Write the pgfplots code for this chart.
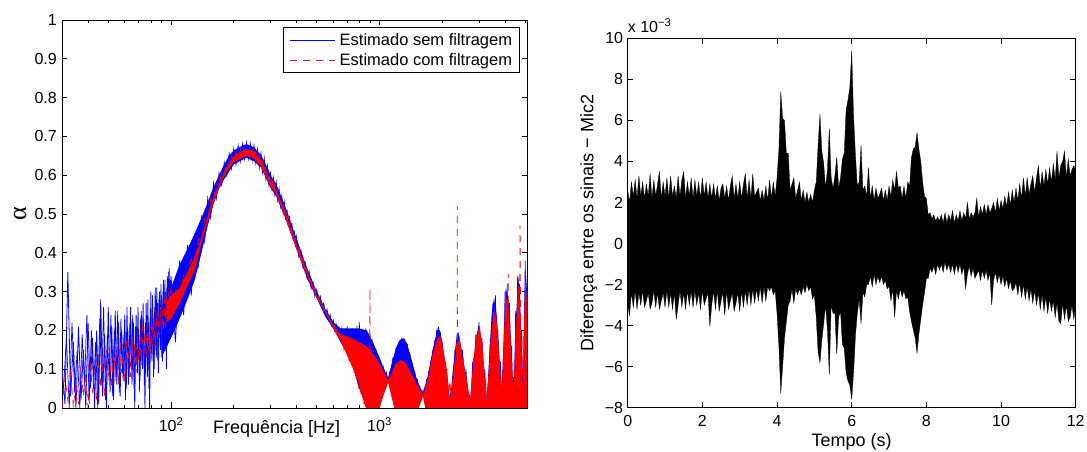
\documentclass[border=0pt]{standalone}
\usepackage{fontspec}
\setmainfont{Liberation Sans}
\newfontfamily\greekserif{Liberation Serif}
\usepackage{pgfplots}
\pgfplotsset{compat=1.18}
\usepackage{pgfplotstable}

% blue series ("sem filtragem")
\pgfplotstableread{
f a
30 0.10
31 0.01
32 0.35
33 0.03
34 0.17
35 0.00
36 0.21
37 0.02
38 0.15
39 0.00
40 0.22
41 0.05
42 0.18
43 0.00
44 0.20
45 0.01
46 0.28
47 0.03
48 0.19
49 0.00
50 0.26
51 0.04
52 0.21
53 0.02
54 0.25
55 0.06
56 0.22
57 0.03
58 0.20
59 0.07
60 0.24
61 0.05
62 0.21
63 0.08
64 0.26
65 0.06
66 0.22
67 0.00
68 0.24
69 0.09
70 0.20
71 0.07
72 0.25
73 0.10
74 0.23
75 0.00
76 0.27
77 0.08
78 0.22
79 0.00
80 0.30
81 0.12
82 0.24
83 0.10
84 0.31
85 0.13
86 0.27
87 0.09
88 0.30
89 0.15
90 0.29
91 0.12
92 0.33
93 0.16
94 0.30
95 0.10
96 0.34
97 0.17
98 0.36
99 0.20
100 0.34
105 0.17
110 0.38
115 0.24
120 0.42
125 0.29
130 0.45
135 0.36
140 0.49
145 0.43
150 0.54
155 0.49
160 0.58
165 0.54
170 0.605
175 0.575
180 0.632
185 0.60
190 0.655
195 0.618
200 0.668
205 0.628
210 0.676
215 0.636
220 0.68
225 0.642
230 0.684
235 0.643
240 0.681
245 0.638
250 0.676
255 0.632
260 0.667
265 0.62
270 0.656
275 0.608
280 0.643
285 0.592
290 0.623
295 0.574
300 0.604
305 0.563
310 0.592
315 0.55
320 0.58
325 0.536
330 0.563
335 0.52
340 0.546
345 0.502
350 0.528
355 0.485
360 0.512
365 0.468
370 0.495
375 0.451
380 0.477
385 0.433
390 0.458
395 0.415
400 0.44
410 0.39
420 0.406
430 0.36
440 0.375
450 0.333
460 0.35
470 0.308
480 0.324
490 0.288
500 0.305
510 0.28
520 0.288
530 0.26
540 0.27
550 0.243
560 0.254
570 0.228
580 0.24
590 0.212
600 0.226
610 0.20
620 0.215
630 0.19
640 0.205
650 0.178
660 0.205
670 0.16
680 0.198
690 0.15
700 0.21
710 0.14
720 0.195
730 0.12
740 0.205
750 0.10
760 0.20
770 0.09
780 0.212
790 0.06
800 0.222
810 0.05
820 0.198
830 0.03
840 0.20
850 0.01
860 0.205
870 0.0
880 0.19
890 0.0
900 0.185
910 0.0
920 0.178
930 0.0
940 0.16
950 0.0
960 0.152
970 0.01
980 0.14
990 0.02
1000 0.13
1020 0.03
1040 0.11
1060 0.05
1080 0.09
1100 0.07
1120 0.09
1140 0.05
1160 0.13
1180 0.02
1200 0.155
1220 0.0
1240 0.172
1260 0.0
1280 0.18
1300 0.0
1320 0.178
1340 0.0
1360 0.165
1380 0.0
1400 0.14
1420 0.0
1440 0.115
1460 0.0
1480 0.092
1500 0.0
1520 0.075
1540 0.01
1560 0.058
1580 0.025
1600 0.045
1620 0.035
1640 0.05
1660 0.02
1680 0.075
1700 0.0
1720 0.095
1740 0.0
1760 0.12
1780 0.0
1800 0.15
1820 0.0
1840 0.175
1860 0.0
1880 0.20
1900 0.0
1920 0.21
1940 0.0
1960 0.195
1980 0.0
2000 0.17
2050 0.0
2100 0.10
2150 0.0
2200 0.04
2250 0.0
2300 0.15
2350 0.0
2400 0.195
2450 0.0
2500 0.15
2550 0.0
2600 0.10
2650 0.0
2700 0.03
2750 0.0
2800 0.12
2850 0.0
2900 0.19
2950 0.0
3000 0.222
3050 0.0
3100 0.18
3150 0.0
3200 0.10
3250 0.0
3300 0.05
3350 0.0
3400 0.18
3450 0.0
3500 0.27
3550 0.0
3600 0.29
3650 0.0
3700 0.20
3750 0.0
3800 0.12
3850 0.0
3900 0.10
3950 0.0
4000 0.30
4050 0.0
4100 0.32
4150 0.0
4200 0.27
4250 0.0
4300 0.16
4350 0.0
4400 0.08
4450 0.0
4500 0.25
4550 0.0
4600 0.34
4650 0.0
4700 0.32
4750 0.0
4800 0.20
4850 0.0
4900 0.12
4950 0.0
5000 0.38
5050 0.0
5100 0.31
}\bluedat

% blue series, the values between the ones above in the noisy low band
\pgfplotstableread{
f a
30.5 0.05
31.5 0.18
32.5 0.00
33.5 0.22
34.5 0.04
35.5 0.15
36.5 0.00
37.5 0.19
38.5 0.06
39.5 0.24
40.5 0.01
41.5 0.20
42.5 0.05
43.5 0.17
44.5 0.00
45.5 0.23
46.5 0.06
47.5 0.26
48.5 0.02
49.5 0.19
50.5 0.08
51.5 0.24
52.5 0.03
53.5 0.20
54.5 0.07
55.5 0.25
56.5 0.04
57.5 0.23
58.5 0.09
59.5 0.19
60.5 0.02
61.5 0.26
62.5 0.06
63.5 0.22
64.5 0.10
65.5 0.24
66.5 0.05
67.5 0.21
68.5 0.11
69.5 0.26
70.5 0.04
71.5 0.23
72.5 0.12
73.5 0.27
74.5 0.06
75.5 0.22
76.5 0.13
77.5 0.28
78.5 0.05
79.5 0.25
80.5 0.14
81.5 0.29
82.5 0.08
83.5 0.26
84.5 0.16
85.5 0.31
86.5 0.12
87.5 0.28
88.5 0.18
89.5 0.32
90.5 0.14
91.5 0.30
92.5 0.19
93.5 0.33
94.5 0.17
95.5 0.31
96.5 0.21
97.5 0.35
98.5 0.19
99.5 0.33
}\bluedatb

% dense core of the blue band: upper edge, then lower edge back
\pgfplotstableread{
f a
90 0.25
100 0.31
110 0.37
120 0.41
130 0.45
140 0.49
150 0.53
160 0.57
170 0.60
180 0.628
190 0.65
200 0.664
220 0.676
230 0.68
250 0.672
270 0.652
290 0.62
300 0.60
320 0.577
350 0.525
400 0.437
450 0.36
500 0.30
550 0.255
600 0.222
650 0.205
700 0.205
800 0.205
870 0.20
930 0.17
1000 0.13
1100 0.076
1150 0.12
1200 0.155
1250 0.175
1300 0.18
1350 0.168
1400 0.14
1450 0.11
1500 0.08
1560 0.055
1620 0.038
1700 0.08
1800 0.15
1900 0.205
1950 0.20
2000 0.17
2100 0.09
2180 0.02
2250 0.10
2350 0.19
2400 0.19
2500 0.14
2600 0.08
2720 0.02
2800 0.10
2900 0.18
3000 0.215
3100 0.17
3200 0.08
3270 0.02
3350 0.12
3450 0.24
3545 0.285
3650 0.24
3750 0.14
3860 0.03
3950 0.20
4036 0.31
4150 0.28
4250 0.20
4390 0.03
4500 0.22
4637 0.34
4750 0.24
4870 0.03
4950 0.28
5020 0.36
5100 0.30
5100 0
1660 0
1620 0.035
1580 0.02
1540 0
1180 0
1100 0.07
1040 0.03
1000 0
870 0
800 0.05
750 0.10
700 0.14
650 0.17
600 0.205
550 0.235
500 0.283
450 0.333
400 0.41
350 0.495
320 0.545
300 0.568
270 0.62
250 0.636
230 0.645
200 0.628
180 0.59
170 0.565
160 0.525
150 0.47
140 0.40
130 0.33
120 0.28
110 0.23
100 0.18
90 0.13
}\blueband

% red series ("com filtragem")
\pgfplotstableread{
f a
30 0.00
31 0.08
32 0.02
33 0.10
34 0.00
35 0.07
36 0.01
37 0.11
38 0.03
39 0.09
40 0.00
41 0.12
42 0.04
43 0.10
44 0.02
45 0.14
46 0.05
47 0.12
48 0.03
49 0.15
50 0.07
51 0.13
52 0.05
53 0.16
54 0.08
55 0.14
56 0.06
57 0.17
58 0.09
59 0.15
60 0.07
61 0.18
62 0.10
63 0.16
64 0.08
65 0.19
66 0.11
67 0.17
68 0.09
69 0.20
70 0.12
71 0.19
72 0.11
73 0.22
74 0.14
75 0.20
76 0.13
77 0.23
78 0.15
79 0.21
80 0.14
81 0.24
82 0.16
83 0.22
84 0.15
85 0.25
86 0.17
87 0.23
88 0.18
89 0.26
90 0.19
91 0.25
92 0.20
93 0.28
94 0.21
95 0.29
96 0.22
97 0.30
98 0.24
99 0.31
100 0.25
105 0.30
110 0.27
115 0.345
120 0.32
125 0.385
130 0.36
135 0.435
140 0.43
145 0.49
150 0.485
155 0.54
160 0.535
165 0.578
170 0.57
175 0.61
180 0.60
185 0.632
190 0.622
195 0.65
200 0.636
205 0.66
210 0.645
215 0.667
220 0.65
225 0.672
230 0.653
235 0.671
240 0.65
245 0.667
250 0.645
255 0.66
260 0.636
265 0.65
270 0.625
275 0.638
280 0.612
285 0.622
290 0.593
295 0.604
300 0.575
305 0.59
310 0.564
315 0.578
320 0.552
325 0.563
330 0.535
335 0.547
340 0.518
345 0.529
350 0.50
355 0.512
360 0.484
365 0.495
370 0.467
375 0.478
380 0.45
385 0.46
390 0.43
395 0.442
400 0.413
410 0.415
420 0.38
430 0.385
440 0.35
450 0.357
460 0.325
470 0.332
480 0.30
490 0.31
500 0.285
510 0.287
520 0.266
530 0.268
540 0.25
550 0.252
560 0.234
570 0.236
580 0.22
590 0.222
600 0.207
610 0.21
620 0.197
630 0.198
640 0.19
650 0.185
655 0.175
665 0.185
675 0.15
685 0.18
695 0.14
705 0.185
715 0.12
725 0.18
735 0.11
745 0.178
755 0.09
765 0.175
775 0.07
785 0.17
795 0.05
805 0.168
815 0.03
825 0.165
835 0.01
845 0.16
855 0.0
865 0.158
875 0.0
885 0.155
895 0.0
900 0.308
905 0.0
915 0.15
925 0.0
935 0.14
945 0.0
955 0.13
965 0.0
975 0.12
985 0.01
995 0.11
1010 0.02
1030 0.10
1050 0.04
1070 0.085
1090 0.06
1110 0.075
1130 0.05
1150 0.09
1170 0.02
1190 0.11
1210 0.0
1230 0.12
1250 0.0
1270 0.124
1290 0.0
1310 0.12
1330 0.0
1350 0.115
1370 0.0
1390 0.10
1410 0.0
1430 0.09
1450 0.0
1470 0.075
1490 0.0
1510 0.06
1530 0.01
1550 0.05
1570 0.025
1590 0.045
1610 0.035
1630 0.04
1650 0.02
1670 0.06
1690 0.0
1710 0.08
1730 0.0
1750 0.10
1770 0.0
1790 0.13
1810 0.0
1830 0.15
1850 0.0
1870 0.17
1890 0.0
1910 0.18
1930 0.0
1950 0.19
1970 0.0
1990 0.17
2025 0.0
2075 0.12
2125 0.0
2175 0.07
2225 0.0
2275 0.08
2325 0.0
2340 0.17
2355 0.0
2361 0.52
2367 0.0
2425 0.18
2475 0.0
2525 0.13
2575 0.0
2625 0.08
2675 0.0
2725 0.02
2775 0.0
2825 0.13
2875 0.0
2925 0.19
2975 0.0
3025 0.216
3075 0.0
3125 0.17
3175 0.0
3225 0.07
3275 0.0
3325 0.08
3375 0.0
3425 0.18
3475 0.0
3525 0.25
3575 0.0
3625 0.24
3675 0.0
3725 0.16
3775 0.0
3825 0.08
3875 0.0
3925 0.16
3975 0.0
4025 0.30
4075 0.0
4125 0.28
4140 0.0
4150 0.345
4160 0.0
4225 0.22
4275 0.0
4325 0.12
4375 0.0
4425 0.06
4475 0.0
4525 0.22
4575 0.0
4625 0.33
4675 0.0
4725 0.47
4775 0.0
4825 0.18
4875 0.0
4925 0.20
4975 0.0
5025 0.33
5075 0.0
5100 0.28
}\reddat

% dense core of the red band: upper edge, then lower edge back
\pgfplotstableread{
f a
95 0.27
100 0.29
110 0.31
120 0.35
130 0.39
140 0.44
150 0.495
160 0.545
170 0.578
180 0.61
190 0.632
200 0.648
220 0.662
230 0.668
250 0.662
270 0.64
290 0.605
300 0.585
320 0.562
350 0.51
400 0.422
450 0.352
500 0.29
550 0.252
600 0.212
650 0.19
700 0.185
800 0.17
870 0.158
930 0.14
1000 0.115
1100 0.07
1200 0.115
1270 0.124
1350 0.112
1450 0.08
1550 0.05
1620 0.035
1700 0.07
1800 0.14
1900 0.18
1950 0.185
2000 0.165
2100 0.10
2180 0.02
2250 0.08
2350 0.17
2420 0.175
2500 0.13
2600 0.08
2720 0.02
2800 0.10
2900 0.18
3020 0.21
3100 0.17
3200 0.08
3270 0.02
3350 0.10
3450 0.20
3545 0.25
3650 0.22
3750 0.14
3860 0.03
3950 0.18
4036 0.29
4150 0.26
4250 0.18
4390 0.03
4500 0.20
4637 0.32
4750 0.22
4870 0.03
4950 0.25
5020 0.32
5100 0.28
5100 0
1660 0
1620 0.03
1580 0.015
1540 0
1180 0
1100 0.065
1040 0.03
1000 0
860 0
800 0.06
750 0.10
700 0.135
650 0.175
600 0.204
550 0.247
500 0.283
450 0.342
400 0.408
350 0.497
320 0.55
300 0.572
270 0.622
250 0.643
230 0.65
200 0.634
180 0.598
170 0.568
160 0.53
150 0.48
140 0.425
130 0.355
120 0.315
110 0.27
100 0.23
95 0.22
}\redband

% signal difference: upper envelope forward, lower envelope back
\pgfplotstableread{
t v
0.00 2.6
0.05 2.0
0.10 3.0
0.15 2.3
0.20 3.1
0.25 2.2
0.30 3.3
0.35 2.3
0.40 3.0
0.45 2.2
0.50 2.9
0.55 2.3
0.60 3.4
0.65 2.2
0.70 3.1
0.75 2.3
0.80 2.9
0.85 3.5
0.90 2.2
0.95 3.0
1.00 2.3
1.05 3.2
1.10 2.2
1.15 3.3
1.20 2.3
1.25 2.8
1.30 2.2
1.35 3.3
1.40 2.3
1.45 3.1
1.50 3.5
1.55 2.2
1.60 3.0
1.65 2.3
1.70 3.2
1.75 2.2
1.80 3.1
1.85 2.3
1.90 3.0
1.95 2.2
2.00 3.2
2.05 2.3
2.10 3.0
2.15 2.2
2.20 2.9
2.25 2.2
2.30 2.9
2.35 2.2
2.40 2.8
2.45 2.1
2.50 2.7
2.55 2.9
2.60 2.2
2.65 2.8
2.70 2.1
2.75 2.8
2.80 3.3
2.85 2.2
2.90 2.9
2.95 2.2
3.00 3.0
3.05 2.2
3.10 2.9
3.15 3.4
3.20 2.2
3.25 3.1
3.30 2.2
3.35 3.4
3.40 2.3
3.45 2.5
3.50 2.7
3.55 2.1
3.60 2.6
3.65 2.1
3.70 2.8
3.75 2.1
3.80 3.1
3.85 2.2
3.90 3.0
3.95 2.3
4.00 3.2
4.05 4.6
4.10 7.4
4.15 6.1
4.20 6.0
4.25 4.4
4.30 4.4
4.35 2.6
4.40 2.9
4.45 3.2
4.50 2.2
4.55 2.6
4.60 3.0
4.65 2.1
4.70 2.6
4.75 2.0
4.80 2.5
4.85 2.0
4.90 2.4
4.95 2.0
5.00 2.6
5.05 3.0
5.10 4.8
5.15 6.3
5.20 4.5
5.25 3.9
5.30 2.7
5.35 3.6
5.40 5.6
5.45 3.2
5.50 2.7
5.55 3.3
5.60 4.2
5.65 2.7
5.70 3.2
5.75 4.1
5.80 4.4
5.85 6.5
5.90 7.0
5.95 7.6
6.00 9.4
6.05 6.2
6.10 4.3
6.15 2.8
6.20 3.0
6.25 4.8
6.30 2.6
6.35 2.8
6.40 2.3
6.45 3.7
6.50 2.2
6.55 2.8
6.60 2.1
6.65 2.7
6.70 2.2
6.75 2.4
6.80 2.7
6.85 2.1
6.90 2.6
6.95 2.1
7.00 2.8
7.05 2.3
7.10 3.1
7.15 2.6
7.20 3.5
7.25 2.7
7.30 2.8
7.35 2.2
7.40 2.8
7.45 2.2
7.50 3.0
7.55 2.8
7.60 4.2
7.65 4.6
7.70 4.7
7.75 5.4
7.80 4.6
7.85 4.0
7.90 3.0
7.95 2.3
8.00 2.2
8.05 1.4
8.10 1.5
8.15 1.2
8.20 1.4
8.25 1.1
8.30 1.3
8.35 1.1
8.40 1.4
8.45 1.0
8.50 1.5
8.55 1.0
8.60 1.4
8.65 1.1
8.70 1.6
8.75 1.0
8.80 1.4
8.85 1.1
8.90 1.6
8.95 1.1
9.00 1.5
9.05 1.2
9.10 2.0
9.15 1.2
9.20 1.5
9.25 1.3
9.30 1.5
9.35 2.2
9.40 1.3
9.45 1.8
9.50 1.4
9.55 1.9
9.60 1.4
9.65 1.9
9.70 1.5
9.75 1.7
9.80 2.0
9.85 1.5
9.90 2.2
9.95 1.6
10.00 2.1
10.05 1.7
10.10 2.3
10.15 1.8
10.20 2.5
10.25 1.9
10.30 2.6
10.35 2.0
10.40 2.7
10.45 2.1
10.50 2.9
10.55 2.2
10.60 3.2
10.65 2.3
10.70 3.2
10.75 2.4
10.80 2.9
10.85 3.3
10.90 2.5
10.95 3.2
11.00 3.8
11.05 2.7
11.10 3.5
11.15 2.8
11.20 3.6
11.25 2.9
11.30 3.7
11.35 3.0
11.40 3.9
11.45 3.1
11.50 4.5
11.55 3.2
11.60 3.8
11.65 4.0
11.70 4.5
11.75 3.2
11.80 4.1
11.85 3.3
11.90 3.6
11.95 3.8
12.00 3.5
12.00 -3.0
11.95 -3.7
11.90 -3.0
11.85 -3.6
11.80 -3.8
11.75 -3.0
11.70 -3.7
11.65 -2.9
11.60 -3.9
11.55 -3.8
11.50 -2.9
11.45 -3.6
11.40 -2.8
11.35 -3.3
11.30 -2.7
11.25 -3.4
11.20 -2.6
11.15 -3.3
11.10 -2.5
11.05 -3.2
11.00 -2.4
10.95 -3.0
10.90 -2.3
10.85 -2.9
10.80 -2.2
10.75 -2.8
10.70 -2.1
10.65 -2.7
10.60 -2.0
10.55 -2.6
10.50 -1.9
10.45 -2.5
10.40 -1.9
10.35 -2.2
10.30 -2.3
10.25 -1.8
10.20 -2.2
10.15 -1.7
10.10 -2.1
10.05 -1.6
10.00 -2.0
9.95 -1.5
9.90 -1.9
9.85 -1.4
9.80 -1.8
9.75 -3.0
9.70 -1.4
9.65 -1.8
9.60 -1.3
9.55 -1.7
9.50 -1.3
9.45 -1.8
9.40 -1.3
9.35 -1.5
9.30 -1.7
9.25 -1.2
9.20 -1.6
9.15 -1.1
9.10 -1.5
9.05 -2.2
9.00 -1.1
8.95 -1.5
8.90 -1.0
8.85 -1.4
8.80 -1.0
8.75 -1.5
8.70 -1.0
8.65 -1.4
8.60 -1.0
8.55 -1.3
8.50 -0.9
8.45 -1.4
8.40 -1.0
8.35 -1.3
8.30 -1.0
8.25 -1.5
8.20 -1.1
8.15 -1.4
8.10 -1.2
8.05 -1.7
8.00 -1.7
7.95 -2.4
7.90 -3.0
7.85 -3.7
7.80 -4.4
7.75 -5.35
7.70 -4.6
7.65 -4.2
7.60 -3.8
7.55 -3.3
7.50 -2.6
7.45 -2.7
7.40 -2.3
7.35 -2.6
7.30 -2.2
7.25 -2.7
7.20 -2.3
7.15 -3.6
7.10 -2.2
7.05 -2.8
7.00 -2.1
6.95 -2.2
6.90 -1.8
6.85 -2.0
6.80 -1.6
6.75 -1.9
6.70 -1.6
6.65 -2.0
6.60 -1.5
6.55 -2.1
6.50 -1.6
6.45 -2.0
6.40 -2.0
6.35 -2.6
6.30 -2.4
6.25 -3.9
6.20 -2.7
6.15 -3.4
6.10 -4.5
6.05 -6.3
6.00 -7.6
5.95 -6.9
5.90 -6.7
5.85 -6.3
5.80 -5.1
5.75 -4.9
5.70 -3.3
5.65 -3.6
5.60 -5.4
5.55 -3.4
5.50 -3.4
5.45 -3.0
5.40 -6.4
5.35 -4.2
5.30 -3.0
5.25 -3.9
5.20 -4.7
5.15 -5.8
5.10 -5.3
5.05 -3.6
5.00 -2.5
4.95 -2.7
4.90 -2.1
4.85 -2.3
4.80 -2.0
4.75 -2.4
4.70 -2.1
4.65 -2.5
4.60 -2.2
4.55 -2.5
4.50 -2.2
4.45 -2.9
4.40 -2.2
4.35 -2.8
4.30 -3.0
4.25 -3.8
4.20 -4.6
4.15 -6.0
4.10 -7.3
4.05 -5.0
4.00 -3.4
3.95 -2.3
3.90 -2.5
3.85 -2.1
3.80 -2.3
3.75 -2.1
3.70 -2.8
3.65 -2.1
3.60 -2.9
3.55 -2.1
3.50 -2.8
3.45 -2.2
3.40 -2.9
3.35 -2.2
3.30 -3.0
3.25 -2.2
3.20 -3.0
3.15 -2.3
3.10 -3.1
3.05 -2.3
3.00 -3.3
2.95 -2.4
2.90 -2.9
2.85 -3.3
2.80 -2.4
2.75 -2.8
2.70 -3.2
2.65 -2.3
2.60 -3.5
2.55 -2.4
2.50 -2.8
2.45 -3.3
2.40 -2.3
2.35 -3.2
2.30 -2.3
2.25 -3.0
2.20 -4.05
2.15 -2.4
2.10 -2.7
2.05 -3.0
2.00 -2.3
1.95 -3.2
1.90 -2.4
1.85 -3.0
1.80 -2.3
1.75 -3.1
1.70 -2.3
1.65 -3.0
1.60 -2.3
1.55 -3.2
1.50 -2.4
1.45 -3.1
1.40 -2.3
1.35 -3.0
1.30 -3.7
1.25 -2.4
1.20 -3.2
1.15 -2.4
1.10 -3.1
1.05 -2.3
1.00 -3.1
0.95 -2.4
0.90 -2.8
0.85 -3.2
0.80 -2.4
0.75 -3.1
0.70 -2.3
0.65 -2.9
0.60 -3.2
0.55 -2.4
0.50 -2.8
0.45 -3.1
0.40 -2.3
0.35 -3.0
0.30 -2.4
0.25 -3.2
0.20 -2.3
0.15 -3.1
0.10 -2.4
0.05 -3.5
0.00 -3.0
}\sigdat

\pgfplotsset{
  mystyle/.style={
    scale only axis,
    anchor=south west,
    tick align=inside,
    major tick length=5.5pt,
    minor tick length=3pt,
    every tick/.style={black, line width=0.6pt},
    axis line style={line width=0.8pt},
    tick label style={font=\fontsize{16}{19}\selectfont},
    label style={font=\fontsize{18}{21}\selectfont},
    yticklabel style={anchor=east, inner sep=0pt, xshift=-5pt},
  }
}

\begin{document}
\begin{tikzpicture}
\useasboundingbox (0pt,0pt) rectangle (1087pt,452pt);
\begin{axis}[mystyle,
  at={(62pt,44pt)}, width=465pt, height=388pt,
  xmode=log, xmin=30, xmax=5100, ymin=0, ymax=1,
  xtick={100,1000}, xticklabels={10\textsuperscript{2},10\textsuperscript{3}},
  minor xtick={30,40,50,60,70,80,90,200,300,400,500,600,700,800,900,2000,3000,4000,5000},
  ytick={0,0.1,0.2,0.3,0.4,0.5,0.6,0.7,0.8,0.9,1},
  yticklabels={0,0.1,0.2,0.3,0.4,0.5,0.6,0.7,0.8,0.9,1},
  xticklabel style={anchor=base, inner sep=0pt, yshift=-24pt},
  xlabel={Frequência [Hz]},
  xlabel style={at={(axis description cs:0.4617,0)}, anchor=base, yshift=-25.3pt},
  ylabel={\greekserif\fontsize{26}{28}\selectfont α},
  ylabel style={at={(axis description cs:-0.0774,0.5)}, anchor=base},
  legend style={at={(rel axis cs:0.9834,0.9812)}, anchor=north east,
    font=\fontsize{16.5}{19}\selectfont, legend cell align=left,
    inner xsep=7pt, inner ysep=4pt, row sep=3pt, column sep=4pt,
    nodes={inner sep=0pt, text height=14pt, text depth=3pt}},
  legend image code/.code={\draw[#1] (0pt,0pt) -- (45pt,0pt);},
]
\addplot[blue, draw=none, fill=blue, forget plot] table[x=f,y=a]{\blueband};
\addplot[blue, line width=0.7pt, forget plot] table[x=f,y=a]{\bluedatb};
\addplot[blue, line width=0.8pt] table[x=f,y=a]{\bluedat};
\addlegendentry{Estimado sem filtragem}
\addplot[red, draw=none, fill=red, forget plot] table[x=f,y=a]{\redband};
\addplot[red, line width=0.7pt, dash pattern=on 7pt off 6pt] table[x=f,y=a]{\reddat};
\addlegendentry{Estimado com filtragem}
\end{axis}

\begin{axis}[mystyle,
  at={(627.7pt,44.3pt)}, width=448pt, height=369.4pt,
  xmin=0, xmax=12, ymin=-8, ymax=10,
  clip mode=individual,
  xtick={0,2,4,6,8,10,12},
  xticklabels={0,2,4,6,8,10,12},
  ytick={-8,-6,-4,-2,0,2,4,6,8,10},
  yticklabels={−8,−6,−4,−2,0,2,4,6,8,10},
  xticklabel style={anchor=base, inner sep=0pt, yshift=-18.7pt},
  yticklabel style={xshift=0.6pt},
  xlabel={Tempo (s)},
  xlabel style={at={(axis description cs:0.5,0)}, anchor=base, yshift=-39pt},
  ylabel={Diferença entre os sinais − Mic2},
  ylabel style={at={(axis description cs:-0.0768,0.5)}, anchor=base},
]
\addplot[fill=black, draw=black, line width=0.3pt] table[x=t,y=v]{\sigdat};
\node[anchor=base west, inner sep=0pt, yshift=6pt, font=\fontsize{16}{19}\selectfont] at (rel axis cs:0,1) {x 10\textsuperscript{−3}};
\end{axis}
\end{tikzpicture}
\end{document}
